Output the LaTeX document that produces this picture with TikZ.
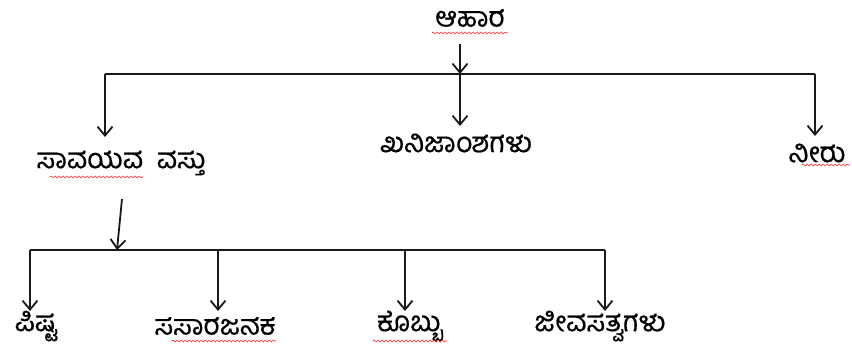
\documentclass[tikz,border=0pt]{standalone}
\usepackage{fontspec}
\newfontfamily\kn[Script=Kannada,FakeBold=0.6]{Hind Mysuru}
\usetikzlibrary{arrows.meta,decorations.pathmorphing}
\tikzset{
  lbl/.style={font=\kn\fontsize{28}{32}\selectfont, inner sep=0pt, anchor=center},
  conn/.style={line width=1.8pt, black!90},
  arr/.style={conn, -{Straight Barb[length=9pt,width=15pt,line width=1.8pt]}},
  squig/.style={red!85, line width=0.6pt, decorate, decoration={snake, amplitude=1pt, segment length=4pt}}
}
\begin{document}
\begin{tikzpicture}[x=1pt,y=-1pt]
\useasboundingbox (0,0) rectangle (852,354);
% labels
\node[lbl] (ahara) at (470,18) {ಆಹಾರ};
\node[lbl] (savayava) at (121,163) {ಸಾವಯವ\ \ ವಸ್ತು};
\node[lbl] (khanija) at (456,143) {ಖನಿಜಾಂಶಗಳು};
\node[lbl] (neeru) at (817,153) {ನೀರು};
\node[lbl] (pishta) at (36,326) {ಪಿಷ್ಟ};
\node[lbl] (sasara) at (215,326) {ಸಸಾರಜನಕ};
\node[lbl] (kobbu) at (410,326) {ಕೊಬ್ಬು};
\node[lbl] (jeeva) at (600,326) {ಜೀವಸತ್ವಗಳು};
% bus coordinates
\coordinate (b1L) at (105,74);
\coordinate (b1M) at (460,74);
\coordinate (b1R) at (815,74);
\coordinate (a0) at (460,44);
\coordinate (t1) at (105,137);
\coordinate (t2) at (460,126);
\coordinate (t3) at (815,136);
\coordinate (s0) at (122,199);
\coordinate (s1) at (117,250);
\coordinate (b2L) at (30,250);
\coordinate (b2a) at (218,250);
\coordinate (b2b) at (405,250);
\coordinate (b2R) at (605,250);
\coordinate (u1) at (30,311);
\coordinate (u2) at (218,311);
\coordinate (u3) at (405,311);
\coordinate (u4) at (605,311);
% connectors
\draw[arr] (a0) -- (b1M);
\draw[conn] (b1L) -- (b1R);
\draw[arr] (b1L) -- (t1);
\draw[arr] (b1M) -- (t2);
\draw[arr] (b1R) -- (t3);
\draw[arr] (s0) -- (s1);
\draw[conn] (b2L) -- (b2R);
\draw[arr] (b2L) -- (u1);
\draw[arr] (b2a) -- (u2);
\draw[arr] (b2b) -- (u3);
\draw[arr] (b2R) -- (u4);
% spell-check squiggles
\draw[squig] (432,33) -- (508,33);
\draw[squig] (50,177) -- (143,177);
\draw[squig] (802,165) -- (850,165);
\draw[squig] (172,341) -- (276,341);
\draw[squig] (373,341) -- (447,341);
\end{tikzpicture}
\end{document}
